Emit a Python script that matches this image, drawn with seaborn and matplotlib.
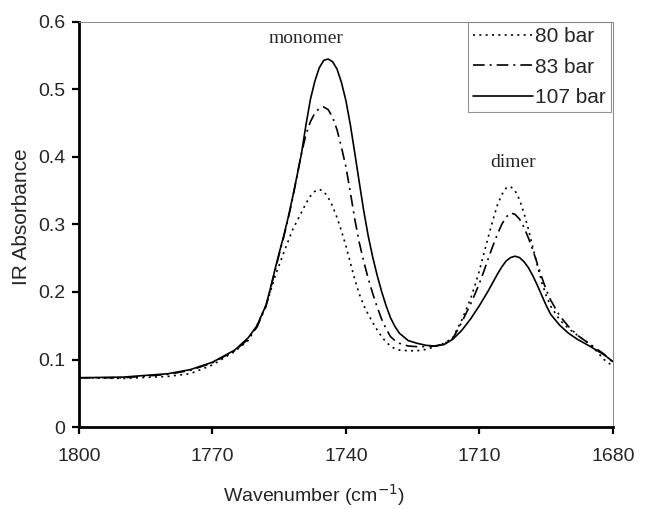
import matplotlib
matplotlib.use("Agg")
import matplotlib.pyplot as plt
import seaborn as sns
import pandas as pd

# ---- data ----
wavenumber = [1800, 1790, 1780, 1775, 1770, 1765, 1762, 1760,
              1758, 1757, 1756, 1755, 1754, 1753, 1752, 1751, 1750, 1749, 1748, 1747,
              1746, 1745, 1744, 1743, 1742, 1741, 1740, 1739, 1738, 1737, 1736, 1735,
              1734, 1733, 1732, 1731, 1730, 1729, 1728,
              1726, 1724, 1722, 1720, 1718, 1716, 1714,
              1712, 1711, 1710, 1709, 1708, 1707, 1706, 1705, 1704, 1703, 1702, 1701,
              1700, 1699, 1698, 1697, 1696, 1695, 1694,
              1692, 1690, 1688, 1685, 1682, 1680]

abs_80 = [0.073, 0.072, 0.075, 0.079, 0.092, 0.112, 0.128, 0.150,
          0.180, 0.200, 0.222, 0.240, 0.258, 0.275, 0.292, 0.305, 0.318, 0.331, 0.342, 0.349,
          0.352, 0.349, 0.340, 0.327, 0.310, 0.290, 0.268, 0.243, 0.218, 0.197, 0.180, 0.167,
          0.155, 0.144, 0.134, 0.126, 0.120, 0.116, 0.114,
          0.113, 0.113, 0.115, 0.119, 0.124, 0.132, 0.158,
          0.190, 0.210, 0.232, 0.257, 0.282, 0.306, 0.328, 0.344, 0.354, 0.356, 0.350, 0.337,
          0.317, 0.293, 0.266, 0.240, 0.214, 0.195, 0.179,
          0.159, 0.146, 0.136, 0.122, 0.100, 0.090]

abs_83 = [0.073, 0.073, 0.078, 0.084, 0.095, 0.113, 0.130, 0.148,
          0.178, 0.203, 0.230, 0.256, 0.281, 0.308, 0.338, 0.372, 0.405, 0.433, 0.452, 0.465,
          0.472, 0.474, 0.470, 0.459, 0.440, 0.414, 0.385, 0.347, 0.307, 0.273, 0.245, 0.220,
          0.198, 0.178, 0.160, 0.146, 0.134, 0.128, 0.124,
          0.120, 0.119, 0.119, 0.120, 0.123, 0.131, 0.155,
          0.182, 0.197, 0.213, 0.231, 0.250, 0.268, 0.285, 0.300, 0.311, 0.317, 0.315, 0.308,
          0.296, 0.280, 0.262, 0.242, 0.222, 0.203, 0.188,
          0.165, 0.149, 0.136, 0.122, 0.108, 0.096]

abs_107 = [0.073, 0.074, 0.079, 0.085, 0.096, 0.114, 0.132, 0.150,
           0.180, 0.205, 0.232, 0.258, 0.283, 0.310, 0.340, 0.372, 0.405, 0.447, 0.485, 0.512,
           0.532, 0.543, 0.545, 0.541, 0.530, 0.510, 0.483, 0.447, 0.405, 0.362, 0.320, 0.283,
           0.252, 0.225, 0.201, 0.180, 0.162, 0.149, 0.139,
           0.128, 0.124, 0.121, 0.120, 0.122, 0.130, 0.143,
           0.160, 0.170, 0.180, 0.191, 0.202, 0.214, 0.226, 0.237, 0.246, 0.251, 0.253, 0.251,
           0.245, 0.236, 0.224, 0.210, 0.195, 0.180, 0.167,
           0.151, 0.139, 0.130, 0.119, 0.107, 0.097]

series_labels = ["80 bar", "83 bar", "107 bar"]
xticks = [1800, 1770, 1740, 1710, 1680]
yticks = [0, 0.1, 0.2, 0.3, 0.4, 0.5, 0.6]
ytick_labels = ["0", "0.1", "0.2", "0.3", "0.4", "0.5", "0.6"]
annotations = [("monomer", 1749, 0.575), ("dimer", 1702.5, 0.392)]

# ---- plot ----
sns.set_style("white")
plt.rcParams["font.family"] = ["Liberation Sans", "DejaVu Sans"]
plt.rcParams["lines.solid_joinstyle"] = "round"
plt.rcParams["lines.dash_joinstyle"] = "round"

fig = plt.figure(figsize=(6.5, 5.09), dpi=100)
ax = fig.add_axes([0.1215, 0.161, 0.8215, 0.796])

styles = [(0, (1.2, 2.6)), (0, (7, 3, 1.2, 3)), "-"]
for vals, lab, ls in zip([abs_80, abs_83, abs_107], series_labels, styles):
    df = pd.DataFrame({"w": wavenumber, "a": vals})
    sns.lineplot(data=df, x="w", y="a", ax=ax, color="black", linestyle=ls,
                 linewidth=1.2, label=lab, sort=False)

ax.set_xlim(1800, 1680)
ax.set_ylim(0, 0.6)
ax.set_xticks(xticks)
ax.set_xticklabels([str(t) for t in xticks])
ax.set_yticks(yticks)
ax.set_yticklabels(ytick_labels)
ax.tick_params(axis="both", labelsize=14, length=5, width=1.6, color="black",
               direction="out", bottom=True, left=True)
ax.tick_params(axis="x", pad=10)
ax.tick_params(axis="y", pad=5)

for side in ["left", "bottom"]:
    ax.spines[side].set_color("black")
    ax.spines[side].set_linewidth(2)
for side in ["top", "right"]:
    ax.spines[side].set_color("#888888")
    ax.spines[side].set_linewidth(0.7)

ax.set_xlabel("Wavenumber (cm$^{-1}$)", fontsize=14)
ax.set_ylabel("IR Absorbance", fontsize=15)
ax.xaxis.set_label_coords(0.44, -0.135)
ax.yaxis.set_label_coords(-0.089, 0.52)

for text, xw, yv in annotations:
    ax.text(xw, yv, text, ha="center", va="center", fontsize=14,
            family=["Liberation Serif", "DejaVu Serif"])

leg = ax.legend(loc="upper right", fontsize=15, frameon=True, fancybox=False,
                borderaxespad=0.0, handlelength=2.9, handletextpad=0.1,
                labelspacing=0.55, borderpad=0.25, bbox_to_anchor=(0.997, 1.0))
leg.get_frame().set_edgecolor("#777777")
leg.get_frame().set_linewidth(0.8)

fig.savefig("out.png", dpi=100)
